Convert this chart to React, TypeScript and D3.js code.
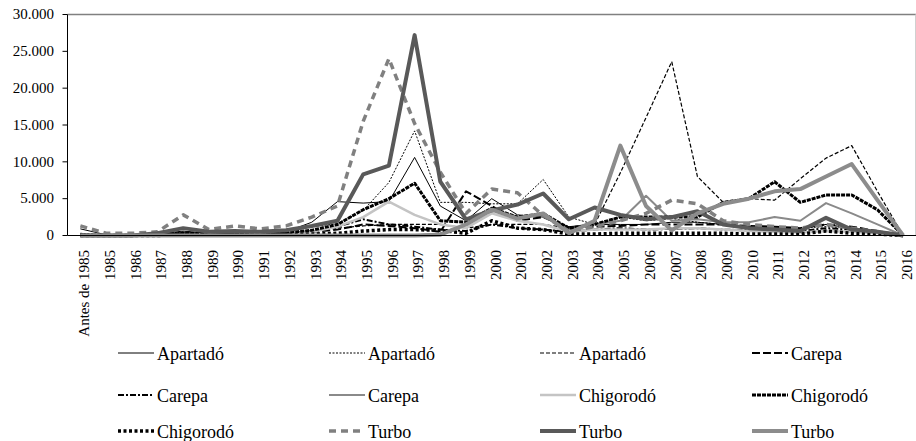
import React from "react";
import * as d3 from "d3";

const categories = ["Antes de 1985","1985","1986","1987","1988","1989","1990","1991","1992","1993","1994","1995","1996","1997","1998","1999","2000","2001","2002","2003","2004","2005","2006","2007","2008","2009","2010","2011","2012","2013","2014","2015","2016"];

const yTicks = [0, 5000, 10000, 15000, 20000, 25000, 30000];

const apartado1 = [900,100,100,200,600,300,400,400,500,1800,4600,4400,4600,10600,4000,2000,5000,2800,2500,1200,1500,1500,1500,1800,1800,1500,1200,1000,900,1500,1000,500,0];
const apartado2 = [300,100,100,200,500,300,400,400,500,1200,1600,3400,7200,14200,4500,4500,4300,4300,7600,2500,1500,2500,2000,2300,1800,1500,1200,1000,1000,1200,1000,500,0];
const apartado3 = [200,100,100,100,300,200,300,300,300,600,1000,1300,1500,1500,1500,1000,1500,1500,1500,1000,1500,8500,16000,23600,8000,4500,5000,4800,7700,10500,12200,6000,0];
const carepa1 = [100,0,0,100,300,200,200,200,300,500,800,1500,1300,1000,500,6000,4000,2000,2500,1000,1200,1300,1500,1500,1500,1500,1300,1200,1000,1500,1200,600,0];
const carepa2 = [100,0,0,100,200,200,200,200,300,600,1200,2200,1500,1200,800,600,1500,1000,800,500,800,1000,800,900,1000,800,700,700,600,1000,800,400,0];
const carepa3 = [0,0,0,0,0,0,0,0,0,0,0,0,0,0,300,1500,3500,2500,2800,800,1500,2000,5400,2000,2200,1800,1800,2500,2000,4400,3000,1500,0];
const chigorodo1 = [0,0,0,0,100,100,100,100,200,500,1200,2500,4600,2800,1500,1000,3000,2000,1500,500,800,800,800,1000,1000,800,600,500,400,600,500,300,0];
const chigorodo2 = [0,0,0,100,300,200,300,300,400,700,1500,3500,5000,7100,2000,1800,3700,2500,3000,1000,1500,2500,2500,2500,2500,4500,5000,7300,4500,5500,5500,3500,0];
const chigorodo3 = [0,0,0,0,100,100,100,100,100,200,300,600,800,800,700,300,2000,1000,800,200,200,300,300,300,300,300,200,200,200,600,300,200,0];
const turbo1 = [1300,300,300,500,2800,800,1300,900,1300,2500,4000,15500,24000,15200,8600,3000,6300,5800,2700,600,1200,2000,3000,4800,4300,2000,1500,1200,1000,1500,1000,500,0];
const turbo2 = [0,0,0,300,1000,500,600,500,700,1300,2000,8300,9500,27200,7300,2200,3400,4200,5700,2200,3800,2800,2200,2500,3300,1500,1000,800,600,2400,800,500,0];
const turbo3 = [0,0,0,0,0,0,0,0,0,0,0,0,0,0,100,1500,3500,2300,3000,300,2000,12200,4000,700,3000,4300,5000,6000,6300,8000,9700,4800,0];

const seriesNames = ["Apartadó","Apartadó","Apartadó","Carepa","Carepa","Carepa","Chigorodó","Chigorodó","Chigorodó","Turbo","Turbo","Turbo"];
const seriesValues = [apartado1, apartado2, apartado3, carepa1, carepa2, carepa3, chigorodo1, chigorodo2, chigorodo3, turbo1, turbo2, turbo3];

const styles = [
  { color: "#000", width: 1, dash: "" },
  { color: "#000", width: 1, dash: "2,1.5" },
  { color: "#000", width: 1.2, dash: "4,2" },
  { color: "#000", width: 2, dash: "8,3" },
  { color: "#000", width: 2, dash: "6,2,2,2" },
  { color: "#8a8a8a", width: 2, dash: "" },
  { color: "#c4c4c4", width: 2.5, dash: "" },
  { color: "#000", width: 3, dash: "4,1" },
  { color: "#000", width: 3.5, dash: "3,2.5" },
  { color: "#808080", width: 3.5, dash: "7,5" },
  { color: "#595959", width: 4, dash: "" },
  { color: "#8c8c8c", width: 4, dash: "" },
];

const W = 916, H = 441;
const left = 67.5, right = 916, top = 14.5, bottom = 235.5;
const font = "'Liberation Serif', 'Times New Roman', serif";

export default function App() {
  const x = d3.scaleBand<string>().domain(categories).range([left, right]).padding(0);
  const y = d3.scaleLinear().domain([0, 30000]).range([bottom, top]);
  const cx = (c: string) => (x(c) as number) + x.bandwidth() / 2;
  const line = d3.line<number>().x((_, i) => cx(categories[i])).y((d) => y(d));
  const fmt = (v: number) => d3.format(",")(v).replace(/,/g, ".");

  const legendCols = [118, 329, 540, 752];
  const legendRows = [353, 395, 431];

  return (
    <svg width={W} height={H} style={{ position: "absolute", left: 0, top: 0, background: "#fff" }} fontFamily={font}>
      <rect x={0} y={0} width={W} height={H} fill="#fff" />
      <line x1={left} x2={right} y1={top} y2={top} stroke="#808080" strokeWidth={1.5} />
      <line x1={915.5} x2={915.5} y1={top} y2={bottom} stroke="#d0d0d0" strokeWidth={1} />
      {yTicks.map((t) => (
        <g key={t}>
          <line x1={left - 5} x2={left} y1={y(t)} y2={y(t)} stroke="#000" />
          <text x={54} y={y(t)} dy="0.32em" textAnchor="end" fontSize={15}>{fmt(t)}</text>
        </g>
      ))}
      <line x1={left} x2={left} y1={top} y2={bottom} stroke="#000" />
      {seriesValues.map((vals, i) => (
        <path key={i} d={line(vals) || ""} fill="none" stroke={styles[i].color} strokeWidth={styles[i].width}
          strokeDasharray={styles[i].dash || undefined} strokeLinejoin="round" />
      ))}
      <line x1={left} x2={right} y1={bottom} y2={bottom} stroke="#000" />
      {categories.map((c) => (
        <text key={c} transform={`translate(${cx(c) + 4},250) rotate(-90)`} textAnchor="end" dy="0.32em" fontSize={15}>{c}</text>
      ))}
      {seriesNames.map((n, i) => {
        const col = i % 4, row = Math.floor(i / 4);
        const lx = legendCols[col], ly = legendRows[row];
        return (
          <g key={i}>
            <line x1={lx} x2={lx + 36} y1={ly} y2={ly} stroke={styles[i].color} strokeWidth={styles[i].width}
              strokeDasharray={styles[i].dash || undefined} />
            <text x={lx + 39} y={ly + 7} fontSize={18}>{n}</text>
          </g>
        );
      })}
    </svg>
  );
}
